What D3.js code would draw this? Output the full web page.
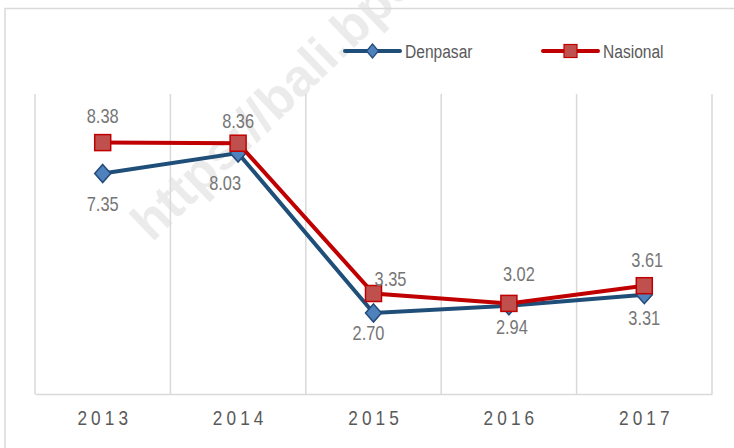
<!DOCTYPE html>
<html>
<head>
<meta charset="utf-8">
<script src="https://cdn.jsdelivr.net/npm/d3@7"></script>
<style>
  body { margin: 0; background: #fff; }
  svg text { font-family: "Liberation Sans Narrow", "Arial Narrow", "Liberation Sans", sans-serif; }
</style>
</head>
<body>
<div id="chart"></div>
<script>
// data
const years = ["2013", "2014", "2015", "2016", "2017"];
const denpasar = [7.35, 8.03, 2.70, 2.94, 3.31];
const nasional = [8.38, 8.36, 3.35, 3.02, 3.61];
const seriesNames = ["Denpasar", "Nasional"];

// manual label nudges (Excel style), [dx, dy] from marker
const denpasarNudge = [[0, 37], [-13, 37], [-5, 27], [3, 28], [0, 30]];
const nasionalNudge = [[0, -20], [0, -15], [17, -8], [10, -22], [3, -19]];

const width = 734, height = 448;
const margin = { top: 94, right: 22, bottom: 54, left: 35 };
const narrow = 0.82; // no narrow font installed, squeeze glyphs instead

const svg = d3.select("#chart").append("svg")
  .attr("width", width)
  .attr("height", height);

// outer chart border
svg.append("rect")
  .attr("x", 5).attr("y", 8.5)
  .attr("width", 760).attr("height", 480)
  .attr("fill", "none")
  .attr("stroke", "#d9d9d9")
  .attr("stroke-width", 1.5);

const x = d3.scaleBand()
  .domain(years)
  .range([margin.left, width - margin.right]);

const y = d3.scaleLinear()
  .domain([0, 10])
  .range([height - margin.bottom, margin.top]);

// vertical gridlines at category edges
const edges = years.map(d => x(d)).concat([x.range()[1]]);
svg.append("g")
  .selectAll("line")
  .data(edges)
  .join("line")
  .attr("x1", d => d).attr("x2", d => d)
  .attr("y1", y(10)).attr("y2", y(0))
  .attr("stroke", "#d9d9d9")
  .attr("stroke-width", 1.5);

// x axis
const xAxis = svg.append("g")
  .attr("transform", `translate(0, ${y(0)})`)
  .call(d3.axisBottom(x).tickSize(0).tickPadding(16));
xAxis.select(".domain").attr("stroke", "#d9d9d9").attr("stroke-width", 1.5);
xAxis.selectAll("text")
  .attr("font-size", 21)
  .attr("fill", "#595959")
  .attr("letter-spacing", "5px")
  .attr("dx", 2.5)
  .attr("transform", `scale(${narrow}, 1)`)
  .attr("font-family", "'Liberation Sans Narrow', 'Arial Narrow', 'Liberation Sans', sans-serif");

// watermark
svg.append("text")
  .attr("transform", "translate(152, 243) rotate(-44)")
  .attr("font-size", 52)
  .attr("font-weight", "bold")
  .attr("fill", "#dcdcdc")
  .attr("opacity", 0.55)
  .attr("font-family", "'Liberation Sans', Arial, sans-serif")
  .text("https://bali.bps.go.id");

const cx = d => x(d) + x.bandwidth() / 2;
const line = d3.line().x((d, i) => cx(years[i])).y(d => y(d));

const blueLine = "#1f4e79", blueFill = "#4f81bd", blueEdge = "#244a7a";
const redLine = "#c00000", redFill = "#c0504d";

const diamond = "M0,-9L8,0L0,9L-8,0Z";

// Denpasar
svg.append("path")
  .datum(denpasar)
  .attr("d", line)
  .attr("fill", "none")
  .attr("stroke", blueLine)
  .attr("stroke-width", 4);

svg.append("g")
  .selectAll("path")
  .data(denpasar)
  .join("path")
  .attr("d", diamond)
  .attr("transform", (d, i) => `translate(${cx(years[i])}, ${y(d)})`)
  .attr("fill", blueFill)
  .attr("stroke", blueEdge)
  .attr("stroke-width", 1.5);

// Nasional
svg.append("path")
  .datum(nasional)
  .attr("d", line)
  .attr("fill", "none")
  .attr("stroke", redLine)
  .attr("stroke-width", 4);

svg.append("g")
  .selectAll("rect")
  .data(nasional)
  .join("rect")
  .attr("x", (d, i) => cx(years[i]) - 8)
  .attr("y", d => y(d) - 8)
  .attr("width", 16).attr("height", 16)
  .attr("fill", redFill)
  .attr("stroke", redLine)
  .attr("stroke-width", 1.5);

// data labels
function addLabels(values, nudge) {
  svg.append("g")
    .selectAll("text")
    .data(values)
    .join("text")
    .attr("transform", (d, i) =>
      `translate(${cx(years[i]) + nudge[i][0]}, ${y(d) + nudge[i][1]}) scale(${narrow}, 1)`)
    .attr("text-anchor", "middle")
    .attr("font-size", 20)
    .attr("fill", "#767676")
    .text(d => d.toFixed(2));
}
addLabels(denpasar, denpasarNudge);
addLabels(nasional, nasionalNudge);

// legend
const legend = svg.append("g");
const legendItems = [
  { name: seriesNames[0], x: 345, stroke: blueLine, fill: blueFill, edge: blueEdge, shape: "diamond" },
  { name: seriesNames[1], x: 543, stroke: redLine, fill: redFill, edge: redLine, shape: "square" }
];
legendItems.forEach(item => {
  const g = legend.append("g").attr("transform", `translate(${item.x}, 51)`);
  g.append("line")
    .attr("x1", 0).attr("x2", 55)
    .attr("stroke", item.stroke)
    .attr("stroke-width", 4)
    .attr("stroke-linecap", "round");
  if (item.shape === "diamond") {
    g.append("path")
      .attr("d", "M0,-7L6,0L0,7L-6,0Z")
      .attr("transform", "translate(27.5, 0)")
      .attr("fill", item.fill)
      .attr("stroke", item.edge)
      .attr("stroke-width", 1.2);
  } else {
    g.append("rect")
      .attr("x", 21).attr("y", -6.5)
      .attr("width", 13).attr("height", 13)
      .attr("fill", item.fill)
      .attr("stroke", item.edge)
      .attr("stroke-width", 1.2);
  }
  g.append("text")
    .attr("transform", `translate(60, 6.5) scale(${narrow}, 1)`)
    .attr("font-size", 19)
    .attr("fill", "#595959")
    .text(item.name);
});
</script>
</body>
</html>
